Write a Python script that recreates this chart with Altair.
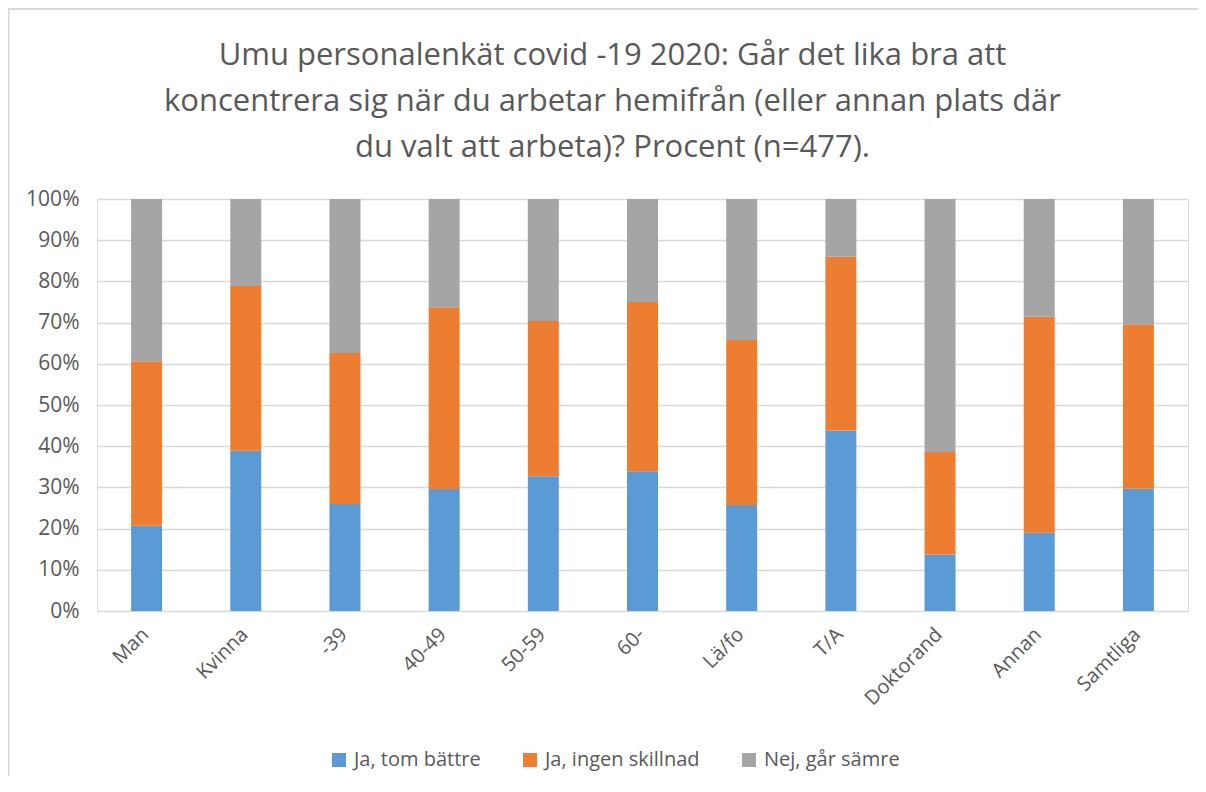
import altair as alt
import pandas as pd

categories = ["Man", "Kvinna", "-39", "40-49", "50-59", "60-", "Lä/fo", "T/A", "Doktorand", "Annan", "Samtliga"]
series = ["Ja, tom bättre", "Ja, ingen skillnad", "Nej, går sämre"]
ja_battre = [20.7, 38.9, 26.0, 29.6, 32.7, 33.9, 25.7, 43.8, 13.7, 19.0, 29.7]
ja_ingen = [39.9, 40.0, 36.6, 44.1, 37.7, 41.1, 40.1, 42.2, 24.9, 52.4, 39.9]
nej_samre = [39.4, 21.1, 37.4, 26.3, 29.6, 25.0, 34.2, 14.0, 61.4, 28.6, 30.4]
colors = ["#5B9BD5", "#ED7D31", "#A5A5A5"]
y_ticks = [0, 0.1, 0.2, 0.3, 0.4, 0.5, 0.6, 0.7, 0.8, 0.9, 1.0]
title_lines = [
    "Umu personalenkät covid -19 2020: Går det lika bra att",
    "koncentrera sig när du arbetar hemifrån (eller annan plats där",
    "du valt att arbeta)? Procent (n=477).",
]

rows = []
for si, (name, vals) in enumerate(zip(series, [ja_battre, ja_ingen, nej_samre])):
    for c, v in zip(categories, vals):
        rows.append({"kategori": c, "svar": name, "andel": v / 100.0, "ordning": si})
df = pd.DataFrame(rows)

FONT = "Open Sans"
TEXT = "#595959"
FRAME = "#D9D9D9"

bars = alt.Chart(df).mark_bar(size=31).encode(
    x=alt.X(
        "kategori:N",
        sort=categories,
        title=None,
        scale=alt.Scale(paddingInner=0.69, paddingOuter=0.345),
        axis=alt.Axis(
            labelAngle=-45,
            labelFont=FONT,
            labelFontSize=20,
            labelColor=TEXT,
            ticks=False,
            domainColor=FRAME,
            labelPadding=13,
            labelOffset=-8,
            grid=False,
        ),
    ),
    y=alt.Y(
        "andel:Q",
        stack="zero",
        title=None,
        scale=alt.Scale(domain=[0, 1], nice=False),
        axis=alt.Axis(
            values=y_ticks,
            format=".0%",
            labelFont=FONT,
            labelFontSize=21,
            labelColor=TEXT,
            ticks=False,
            domain=False,
            gridColor=FRAME,
            gridWidth=1.3,
            labelPadding=18,
        ),
    ),
    color=alt.Color(
        "svar:N",
        sort=series,
        scale=alt.Scale(domain=series, range=colors),
        legend=alt.Legend(
            title=None,
            orient="none",
            direction="horizontal",
            legendX=232,
            legendY=551,
            symbolType="square",
            symbolSize=196,
            symbolStrokeWidth=0,
            labelFont=FONT,
            labelFontSize=20,
            labelColor=TEXT,
            labelOffset=5,
            columnPadding=39,
        ),
    ),
    order=alt.Order("ordning:Q", sort="ascending"),
)

frame_df = pd.DataFrame({"a": [0]})
top_line = alt.Chart(frame_df).mark_rule(color=FRAME, strokeWidth=2).encode(
    x=alt.value(-89), x2=alt.value(1101), y=alt.value(-190)
)
left_line = alt.Chart(frame_df).mark_rule(color=FRAME, strokeWidth=2).encode(
    x=alt.value(-88.5), y=alt.value(-190), y2=alt.value(577)
)

chart = alt.layer(top_line, left_line, bars).properties(
    width=1091,
    height=412,
    title=alt.TitleParams(
        text=title_lines,
        font=FONT,
        fontSize=31,
        fontWeight="normal",
        color=TEXT,
        anchor="middle",
        dx=-30,
        lineHeight=46,
        offset=-156,
    ),
    autosize=alt.AutoSizeParams(type="none"),
    padding={"left": 89, "top": 191, "right": 10, "bottom": 173},
).configure_view(stroke=None).configure(background="white")

chart.save("out.html", embed_options={"renderer": "svg", "actions": False})
